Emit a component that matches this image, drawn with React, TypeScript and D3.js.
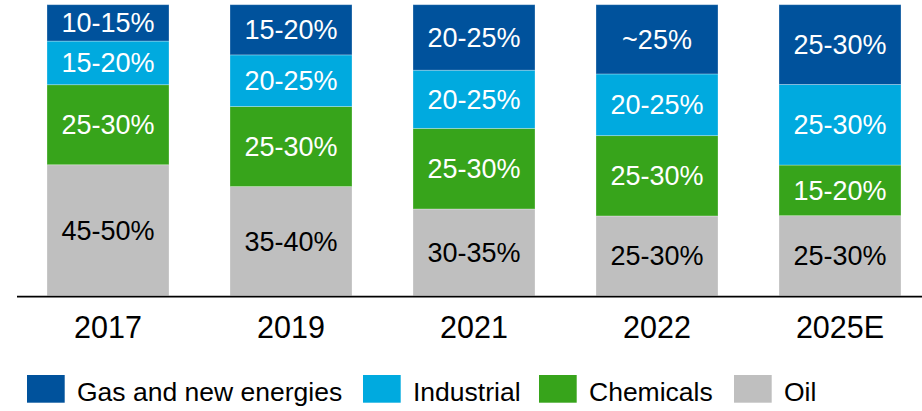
import React from "react";
import * as d3 from "d3";

const categories = ["2017", "2019", "2021", "2022", "2025E"];
const seriesNames = ["Oil", "Chemicals", "Industrial", "Gas and new energies"];
const oilValues = [45, 37.5, 29.8, 27.4, 27.5];
const chemicalsValues = [27.5, 27.5, 27.7, 27.6, 17.4];
const industrialValues = [15, 17.75, 20, 21.2, 27.7];
const gasValues = [12.5, 17.25, 22.5, 23.8, 27.4];
const oilLabels = ["45-50%", "35-40%", "30-35%", "25-30%", "25-30%"];
const chemicalsLabels = ["25-30%", "25-30%", "25-30%", "25-30%", "15-20%"];
const industrialLabels = ["15-20%", "20-25%", "20-25%", "20-25%", "25-30%"];
const gasLabels = ["10-15%", "15-20%", "20-25%", "~25%", "25-30%"];
const legendOrder = ["Gas and new energies", "Industrial", "Chemicals", "Oil"];

const colors: Record<string, string> = {
  Oil: "#bfbfbf",
  Chemicals: "#37a41b",
  Industrial: "#00aadf",
  "Gas and new energies": "#00529c",
};
const textColors: Record<string, string> = {
  Oil: "#000000",
  Chemicals: "#ffffff",
  Industrial: "#ffffff",
  "Gas and new energies": "#ffffff",
};

const W = 922;
const H = 411;
const FONT = "'Liberation Sans', Arial, Helvetica, sans-serif";
const legendX = [27, 363, 539, 734];

export default function App() {
  const valuesBySeries: Record<string, number[]> = {
    Oil: oilValues,
    Chemicals: chemicalsValues,
    Industrial: industrialValues,
    "Gas and new energies": gasValues,
  };
  const labelsBySeries: Record<string, string[]> = {
    Oil: oilLabels,
    Chemicals: chemicalsLabels,
    Industrial: industrialLabels,
    "Gas and new energies": gasLabels,
  };
  const table = categories.map((c, i) => {
    const row: any = { cat: c };
    seriesNames.forEach((s) => (row[s] = valuesBySeries[s][i]));
    return row;
  });
  const stacked = d3.stack().keys(seriesNames)(table);

  const x = d3
    .scaleBand()
    .domain(categories)
    .range([47, 901])
    .paddingInner(1 / 3)
    .paddingOuter(0);
  const y = d3.scaleLinear().domain([0, 100]).range([295.7, 4.7]);

  return (
    <svg
      width={W}
      height={H}
      style={{ position: "absolute", left: 0, top: 0, background: "#fff" }}
      fontFamily={FONT}
    >
      {stacked.map((layer) => (
        <g key={layer.key}>
          {layer.map((d, i) => {
            const cat = categories[i];
            const y0 = y(d[0]);
            const y1 = y(d[1]);
            const xx = x(cat)!;
            return (
              <g key={cat}>
                <rect
                  x={xx}
                  y={y1}
                  width={x.bandwidth()}
                  height={y0 - y1}
                  fill={colors[layer.key]}
                  stroke="#ffffff"
                  strokeOpacity={0.35}
                  strokeWidth={0.8}
                />
                <text
                  x={xx + x.bandwidth() / 2}
                  y={(y0 + y1) / 2}
                  dy="0.35em"
                  textAnchor="middle"
                  fontSize={27}
                  fill={textColors[layer.key]}
                >
                  {labelsBySeries[layer.key][i]}
                </text>
              </g>
            );
          })}
        </g>
      ))}
      <line x1={17} x2={W} y1={296.6} y2={296.6} stroke="#000" strokeWidth={1.8} />
      {categories.map((c) => (
        <text
          key={c}
          x={x(c)! + x.bandwidth() / 2}
          y={337.5}
          textAnchor="middle"
          fontSize={30.5}
          fill="#000"
        >
          {c}
        </text>
      ))}
      {legendOrder.map((s, i) => (
        <g key={s} transform={`translate(${legendX[i]},375)`}>
          <rect width={37.7} height={27.7} fill={colors[s]} />
          <text x={50} y={26} fontSize={26.5} fill="#000">
            {s}
          </text>
        </g>
      ))}
    </svg>
  );
}
